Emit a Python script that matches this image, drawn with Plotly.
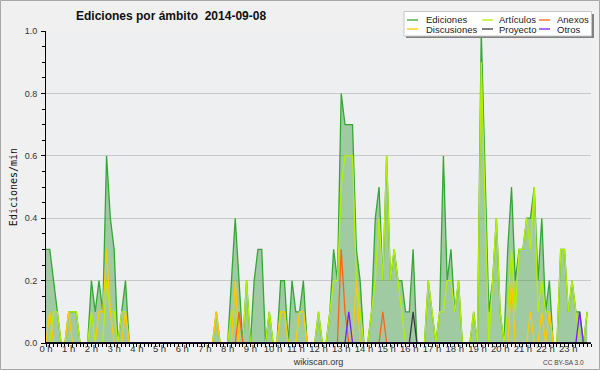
import plotly.graph_objects as go

# ---- data: edits per minute, 10-minute slots, one row per hour ----
hour_labels = [f"{h} h" for h in range(24)]
slots_per_hour = 6

ediciones = [
    0.3, 0.3, 0.2, 0.1, 0, 0,
    0.1, 0.1, 0.1, 0, 0, 0,
    0.2, 0.1, 0.2, 0.1, 0.6, 0.4,
    0.3, 0, 0.1, 0.2, 0, 0,
    0, 0, 0, 0, 0, 0,
    0, 0, 0, 0, 0, 0,
    0, 0, 0, 0, 0, 0,
    0, 0, 0, 0.1, 0, 0,
    0, 0.2, 0.4, 0.2, 0, 0.2,
    0, 0.2, 0.3, 0.3, 0, 0.1,
    0, 0, 0.2, 0.2, 0, 0.2,
    0.1, 0.1, 0.2, 0, 0, 0,
    0.1, 0, 0, 0.1, 0.3, 0.2,
    0.8, 0.7, 0.7, 0.7, 0.3, 0.2,
    0, 0, 0.1, 0.4, 0.5, 0.2,
    0.6, 0.2, 0.3, 0.2, 0.2, 0.1,
    0.1, 0.3, 0, 0, 0, 0.2,
    0.1, 0, 0.1, 0.6, 0.2, 0.3,
    0.1, 0.2, 0, 0, 0, 0.1,
    0, 1.0, 0.5, 0.1, 0.2, 0.4,
    0.1, 0, 0.3, 0.5, 0.2, 0.3,
    0.3, 0.4, 0.4, 0.5, 0.2, 0.4,
    0.1, 0.2, 0, 0, 0.3, 0.3,
    0.1, 0.2, 0.1, 0.1, 0, 0.1,
]

articulos = [
    0, 0, 0.1, 0.1, 0, 0,
    0.1, 0.1, 0.1, 0, 0, 0,
    0.1, 0, 0, 0, 0.2, 0.1,
    0.1, 0, 0.1, 0.1, 0, 0,
    0, 0, 0, 0, 0, 0,
    0, 0, 0, 0, 0, 0,
    0, 0, 0, 0, 0, 0,
    0, 0, 0, 0.1, 0, 0,
    0, 0.1, 0.1, 0, 0, 0.2,
    0, 0, 0, 0, 0, 0.1,
    0, 0, 0.1, 0.1, 0, 0,
    0, 0.1, 0.1, 0, 0, 0,
    0.1, 0, 0, 0.1, 0.2, 0.2,
    0.5, 0.6, 0.6, 0.6, 0.2, 0.1,
    0, 0, 0.1, 0.2, 0.4, 0.2,
    0.6, 0.2, 0.3, 0.2, 0.1, 0,
    0, 0, 0, 0, 0, 0.2,
    0.1, 0, 0.1, 0.1, 0.2, 0.2,
    0.1, 0.2, 0, 0, 0, 0.1,
    0, 0.9, 0.4, 0, 0.2, 0.4,
    0.1, 0, 0.1, 0.3, 0.1, 0.3,
    0.3, 0.4, 0.3, 0.5, 0.1, 0.2,
    0.1, 0.1, 0, 0, 0.3, 0.3,
    0.1, 0.2, 0.1, 0, 0, 0.1,
]

discusiones = [
    0, 0.1, 0, 0, 0, 0,
    0.1, 0, 0, 0, 0, 0,
    0, 0, 0.1, 0.1, 0.3, 0.1,
    0, 0, 0, 0.1, 0, 0,
    0, 0, 0, 0, 0, 0,
    0, 0, 0, 0, 0, 0,
    0, 0, 0, 0, 0, 0,
    0, 0, 0, 0.1, 0, 0,
    0, 0, 0.2, 0, 0, 0,
    0, 0, 0, 0, 0, 0,
    0, 0, 0.1, 0.1, 0, 0,
    0, 0.1, 0.1, 0, 0, 0,
    0, 0, 0, 0, 0, 0,
    0, 0, 0, 0, 0.2, 0,
    0, 0, 0, 0, 0, 0,
    0, 0, 0, 0, 0, 0,
    0, 0, 0, 0, 0, 0,
    0, 0, 0, 0, 0, 0,
    0, 0, 0, 0, 0, 0,
    0, 0, 0, 0, 0, 0,
    0, 0, 0, 0.2, 0, 0,
    0, 0, 0.1, 0, 0, 0.1,
    0, 0.1, 0, 0, 0, 0,
    0, 0, 0, 0, 0, 0,
]

anexos = [0] * 144
anexos[51] = 0.1
anexos[78] = 0.3
anexos[79] = 0.1
anexos[89] = 0.1

proyecto = [0] * 144
proyecto[97] = 0.1

otros = [0] * 144
otros[80] = 0.1
otros[141] = 0.1

# time axis in hours (one point every 10 minutes)
times = [h + k / slots_per_hour for h in range(24) for k in range(slots_per_hour)]

series = [
    ("Ediciones", ediciones, "#34a834"),
    ("Artículos", articulos, "#b4f000"),
    ("Discusiones", discusiones, "#ffc800"),
    ("Anexos", anexos, "#ff6414"),
    ("Proyecto", proyecto, "#3c3c3c"),
    ("Otros", otros, "#7a1cff"),
]

FONT = "Liberation Sans, Arial, sans-serif"

W, H = 600, 370
ML, MR, MT, MB = 46, 9, 31, 27
PW, PH = W - ML - MR, H - MT - MB


def px(xp):
    return (xp - ML) / PW


def py(yp):
    return (H - MB - yp) / PH


fig = go.Figure()
for i, (name, vals, col) in enumerate(series):
    kw = {}
    if i == 0:
        kw = dict(fill="tozeroy", fillcolor="rgba(52,150,52,0.42)")
    fig.add_trace(go.Scatter(x=times, y=vals, name=name, mode="lines",
                             line=dict(color=col, width=1.3), showlegend=False,
                             hoverinfo="x+y+name", **kw))

shapes = []
annotations = []

# baseline drawn over the zero-level lines
shapes.append(dict(type="line", xref="paper", yref="y", x0=0, x1=1, y0=0, y1=0,
                   line=dict(color="#000", width=1.5), layer="above"))

# outer border
shapes.append(dict(type="rect", xref="paper", yref="paper",
                   x0=px(0.5), x1=px(599.5), y0=py(369.5), y1=py(0.5),
                   line=dict(color="#a8a8a8", width=1), fillcolor="rgba(0,0,0,0)", layer="above"))

# legend box with shadow
shapes.append(dict(type="rect", xref="paper", yref="paper",
                   x0=px(406), x1=px(594), y0=py(38), y1=py(14),
                   line=dict(width=0), fillcolor="#808080", layer="above"))
shapes.append(dict(type="rect", xref="paper", yref="paper",
                   x0=px(404), x1=px(591.5), y0=py(36), y1=py(11.5),
                   line=dict(color="#c8c8c8", width=1), fillcolor="#ffffff", layer="above"))

legend_order = [0, 1, 3, 2, 4, 5]
col_line_x = [407, 482, 539]
col_text_x = [424, 497, 555]
row_y = [20, 29]
for slot, si in enumerate(legend_order):
    name, _, col = series[si]
    r, c = divmod(slot, 3)
    shapes.append(dict(type="line", xref="paper", yref="paper",
                       x0=px(col_line_x[c]), x1=px(col_line_x[c] + 11),
                       y0=py(row_y[r]), y1=py(row_y[r]),
                       line=dict(color=col, width=1.3), layer="above"))
    annotations.append(dict(text=name, xref="paper", yref="paper",
                            x=px(col_text_x[c]), y=py(row_y[r]),
                            xanchor="left", yanchor="middle", showarrow=False,
                            font=dict(family=FONT, size=9.5, color="#222")))

annotations.append(dict(text="CC BY-SA 3.0", xref="paper", yref="paper",
                        x=px(563), y=py(362), xanchor="center", yanchor="middle",
                        showarrow=False, font=dict(family=FONT, size=6.5, color="#444")))

fig.update_layout(
    width=W, height=H,
    margin=dict(l=ML, r=MR, t=MT, b=MB, pad=0, autoexpand=False),
    paper_bgcolor="#f0f0f0",
    plot_bgcolor="#eeeff1",
    hovermode=False,
    title=dict(text="Ediciones por ámbito  2014-09-08", xref="paper", x=px(76),
               xanchor="left", yref="container", y=1 - 16 / H, yanchor="middle",
               font=dict(family=FONT, size=12, color="#111", weight="bold")),
    font=dict(family=FONT, size=9, color="#333"),
    shapes=shapes,
    annotations=annotations,
    xaxis=dict(range=[0, 24], tickvals=list(range(24)), ticktext=hour_labels,
               automargin=False, layer="above traces",
               ticks="outside", ticklen=3, tickcolor="#000", tickwidth=1,
               ticklabelstandoff=-6,
               minor=dict(dtick=1 / slots_per_hour, tick0=0, ticks="outside", ticklen=3,
                          tickcolor="#000", showgrid=False),
               showline=True, linecolor="#000", linewidth=1, showgrid=False,
               zeroline=False, tickfont=dict(family=FONT, size=9.5, color="#333"),
               title=dict(text="wikiscan.org", standoff=5,
                          font=dict(family=FONT, size=9, color="#333"))),
    yaxis=dict(range=[0, 1.0], tickvals=[0, 0.2, 0.4, 0.6, 0.8, 1.0],
               automargin=False, layer="above traces",
               tickformat=".1f", ticks="outside", ticklen=4, tickcolor="#000",
               ticklabelstandoff=2,
               minor=dict(dtick=0.05, ticks="outside", ticklen=3, tickcolor="#000",
                          showgrid=False),
               showline=True, linecolor="#000", linewidth=1, showgrid=True,
               gridcolor="#c8c8c8", gridwidth=1, zeroline=False,
               tickfont=dict(family=FONT, size=9, color="#333"),
               title=dict(text="Ediciones/min", standoff=5,
                          font=dict(family="DejaVu Sans Mono", size=10, color="#111"))),
)

fig.write_html("out.html", config={"displayModeBar": False},
               post_script="document.body.style.margin='0';")
